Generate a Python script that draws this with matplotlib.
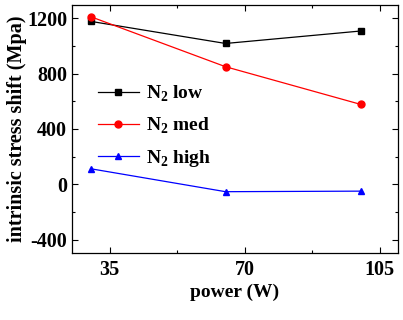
import matplotlib.pyplot as plt
from matplotlib.ticker import MultipleLocator

# power (W) and stress shift (MPa) per N2 flow
power = [30, 65, 100]
n2_low = [1178, 1018, 1108]
n2_med = [1212, 850, 578]
n2_high = [113, -53, -49]

plt.rcParams['font.family'] = ['Liberation Serif', 'DejaVu Serif']
plt.rcParams['font.weight'] = 'bold'
plt.rcParams['mathtext.fontset'] = 'custom'
plt.rcParams['mathtext.rm'] = 'Liberation Serif:bold'
plt.rcParams['axes.unicode_minus'] = False

fig = plt.figure(figsize=(4.03, 3.2), dpi=100)
ax = fig.add_axes([72 / 403, 1 - 253 / 320, 326 / 403, 248 / 320])

ax.plot(power, n2_low, color='black', marker='s', ms=4.5, lw=0.9, label='N$_2$ low')
ax.plot(power, n2_med, color='red', marker='o', ms=5, lw=0.9, label='N$_2$ med')
ax.plot(power, n2_high, color='blue', marker='^', ms=5, lw=0.9, label='N$_2$ high')

ax.set_xlim(25.2, 109.7)
ax.set_ylim(-496, 1296)
ax.xaxis.set_major_locator(MultipleLocator(35))
ax.xaxis.set_minor_locator(MultipleLocator(17.5))
ax.yaxis.set_major_locator(MultipleLocator(400))
ax.yaxis.set_minor_locator(MultipleLocator(200))
ax.tick_params(which='both', direction='in', top=True, right=True, labelsize=14.5, width=0.8)
ax.tick_params(which='major', length=4)
ax.tick_params(which='minor', length=2.5)
ax.tick_params(axis='x', pad=5)
for s in ax.spines.values():
    s.set_linewidth(0.9)

ax.set_xlabel('power (W)', fontsize=14, fontweight='bold', labelpad=3)
ax.set_ylabel('intrinsic stress shift (Mpa)', fontsize=14.5, fontweight='bold', labelpad=0)

leg = ax.legend(loc='upper left', bbox_to_anchor=(0.05, 0.72), frameon=False, fontsize=14,
                handlelength=2.1, handletextpad=0.35, labelspacing=0.6, borderpad=0)

fig.savefig('out.png', dpi=100)
